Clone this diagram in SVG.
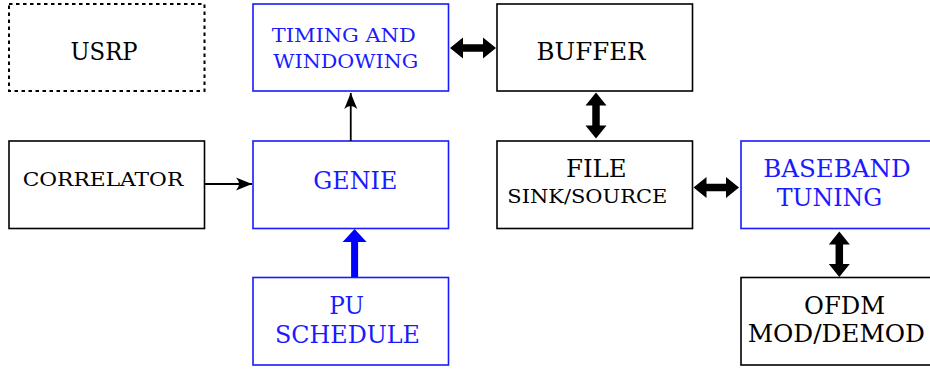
<svg xmlns="http://www.w3.org/2000/svg" width="930" height="371" viewBox="0 0 930 371">
<style>
.box{fill:#fff;stroke:#000;stroke-width:1.6}
.blue{stroke:#1a1aff}
.dash{stroke-dasharray:3.5,3.5;stroke-width:2}
.t{font-family:"DejaVu Serif","Liberation Serif",serif;text-anchor:middle;fill:#000}
.tb{fill:#1a1aff}
.L{font-size:24px}
.S{font-size:19px}
.thin{stroke:#000;stroke-width:1.8;fill:none}
</style>
<defs>
<marker id="ah" markerUnits="userSpaceOnUse" markerWidth="20" markerHeight="16" viewBox="-16 -8 20 16" refX="0" refY="0" orient="auto">
<path d="M0,0 L-16,-6.5 Q-10,0 -16,6.5 Z" fill="#000"/>
</marker>
</defs>
<rect width="930" height="371" fill="#fff"/>
<g id="usrp"><rect class="box dash" x="9" y="4" width="195.5" height="87"/><text class="t L" x="104" y="60" textLength="67" lengthAdjust="spacingAndGlyphs">USRP</text></g>
<g id="timing"><rect class="box blue" x="253" y="4" width="195.5" height="87"/><text class="t S tb" x="343.7" y="42" textLength="144" lengthAdjust="spacingAndGlyphs">TIMING AND</text><text class="t S tb" x="345.8" y="67.5" textLength="145" lengthAdjust="spacingAndGlyphs">WINDOWING</text></g>
<g id="buffer"><rect class="box" x="497" y="4" width="195.5" height="87"/><text class="t L" x="591" y="60" textLength="109" lengthAdjust="spacingAndGlyphs">BUFFER</text></g>
<g id="correlator"><rect class="box" x="9" y="141" width="195.5" height="87.5"/><text class="t S" x="103" y="186" textLength="160.6" lengthAdjust="spacingAndGlyphs">CORRELATOR</text></g>
<g id="genie"><rect class="box blue" x="253" y="141" width="195.5" height="87.5"/><text class="t L tb" x="355.3" y="189" textLength="84" lengthAdjust="spacingAndGlyphs">GENIE</text></g>
<g id="file"><rect class="box" x="497" y="141" width="195.5" height="87.5"/><text class="t L" x="596.3" y="177" textLength="60.7" lengthAdjust="spacingAndGlyphs">FILE</text><text class="t S" x="587.3" y="203" textLength="160" lengthAdjust="spacingAndGlyphs">SINK/SOURCE</text></g>
<g id="baseband"><rect class="box blue" x="741" y="141" width="195.5" height="87.5"/><text class="t L tb" x="837" y="177" textLength="147.4" lengthAdjust="spacingAndGlyphs">BASEBAND</text><text class="t L tb" x="829.5" y="206" textLength="105.6" lengthAdjust="spacingAndGlyphs">TUNING</text></g>
<g id="pu"><rect class="box blue" x="253" y="277.5" width="195.5" height="87.5"/><text class="t L tb" x="346.7" y="314" textLength="34.7" lengthAdjust="spacingAndGlyphs">PU</text><text class="t L tb" x="347.5" y="343" textLength="145" lengthAdjust="spacingAndGlyphs">SCHEDULE</text></g>
<g id="ofdm"><rect class="box" x="741" y="277.5" width="195.5" height="87.5"/><text class="t L" x="844.5" y="314" textLength="81" lengthAdjust="spacingAndGlyphs">OFDM</text><text class="t L" x="836.3" y="342" textLength="177.3" lengthAdjust="spacingAndGlyphs">MOD/DEMOD</text></g>
<g id="connectors">
<line class="thin" x1="204.5" y1="184" x2="252" y2="184" marker-end="url(#ah)"/>
<line class="thin" x1="350.75" y1="141" x2="350.75" y2="93" marker-end="url(#ah)"/>
<polygon fill="#000" points="450,48 463,37.5 463,44.25 483,44.25 483,37.5 496,48 483,58.5 483,51.75 463,51.75 463,58.5"/>
<polygon fill="#000" points="596,92.5 606.5,105.5 599.75,105.5 599.75,125.5 606.5,125.5 596,138.5 585.5,125.5 592.25,125.5 592.25,105.5 585.5,105.5"/>
<polygon fill="#000" points="693.5,187.5 706.5,177 706.5,183.75 726,183.75 726,177 739,187.5 726,198 726,191.25 706.5,191.25 706.5,198"/>
<polygon fill="#000" points="839.3,231.5 849.8,244.5 843.05,244.5 843.05,264 849.8,264 839.3,277 828.8,264 835.55,264 835.55,244.5 828.8,244.5"/>
<polygon fill="#0000ff" points="354.6,229 366.6,242 358.1,242 358.1,277 351.1,277 351.1,242 342.6,242"/>
</g>
</svg>
